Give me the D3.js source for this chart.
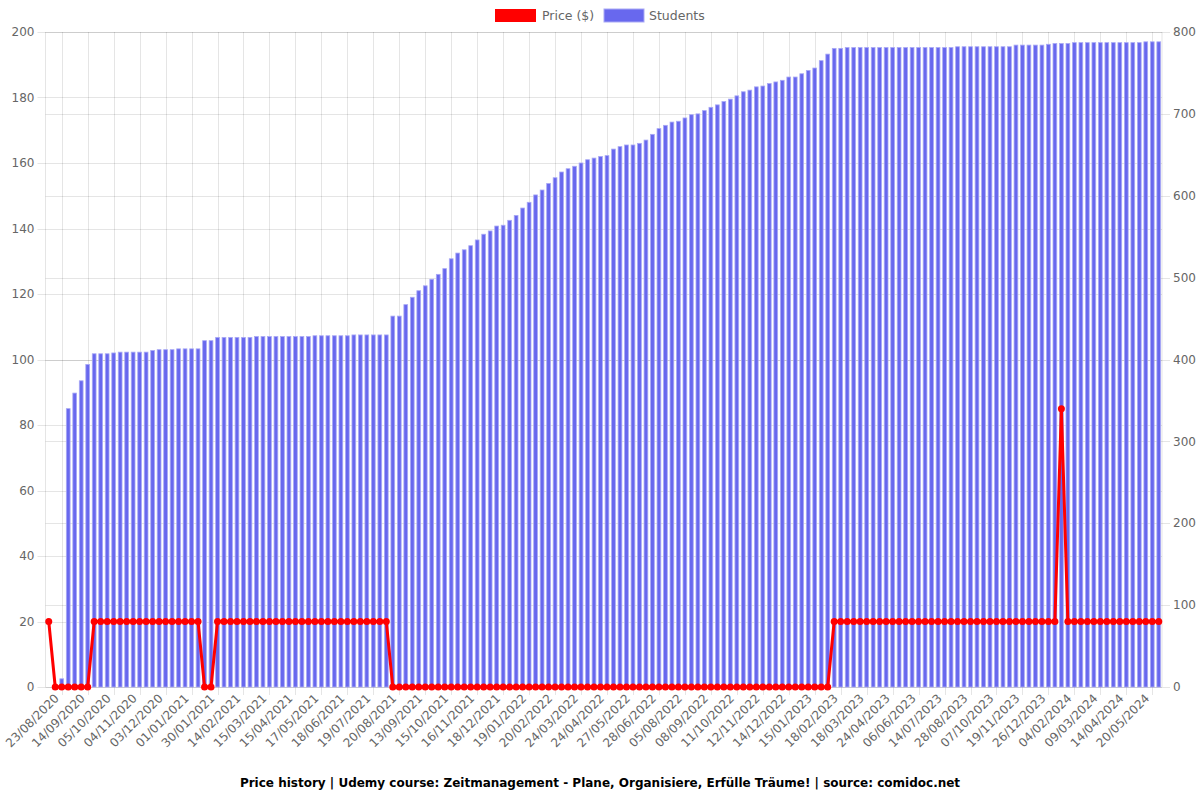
<!DOCTYPE html>
<html><head><meta charset="utf-8">
<script src="https://cdn.jsdelivr.net/npm/d3@7"></script>
<style>body{margin:0;background:#fff;}svg{display:block;font-family:"DejaVu Sans",sans-serif;}</style>
</head><body><svg id="c" width="1200" height="800"></svg>
<script>
const dates = [
"23/08/2020","28/08/2020","02/09/2020","08/09/2020","14/09/2020","19/09/2020","24/09/2020","29/09/2020",
"05/10/2020","12/10/2020","20/10/2020","27/10/2020","04/11/2020","11/11/2020","18/11/2020","26/11/2020",
"03/12/2020","10/12/2020","17/12/2020","24/12/2020","01/01/2021","08/01/2021","15/01/2021","22/01/2021",
"30/01/2021","03/02/2021","07/02/2021","10/02/2021","14/02/2021","21/02/2021","28/02/2021","07/03/2021",
"15/03/2021","23/03/2021","31/03/2021","07/04/2021","15/04/2021","23/04/2021","01/05/2021","09/05/2021",
"17/05/2021","25/05/2021","02/06/2021","10/06/2021","18/06/2021","26/06/2021","03/07/2021","11/07/2021",
"19/07/2021","27/07/2021","04/08/2021","12/08/2021","20/08/2021","26/08/2021","01/09/2021","07/09/2021",
"13/09/2021","21/09/2021","29/09/2021","07/10/2021","15/10/2021","23/10/2021","31/10/2021","08/11/2021",
"16/11/2021","24/11/2021","02/12/2021","10/12/2021","18/12/2021","26/12/2021","03/01/2022","11/01/2022",
"19/01/2022","27/01/2022","04/02/2022","12/02/2022","20/02/2022","28/02/2022","08/03/2022","16/03/2022",
"24/03/2022","01/04/2022","09/04/2022","16/04/2022","24/04/2022","02/05/2022","10/05/2022","19/05/2022",
"27/05/2022","04/06/2022","12/06/2022","20/06/2022","28/06/2022","08/07/2022","17/07/2022","27/07/2022",
"05/08/2022","14/08/2022","22/08/2022","31/08/2022","08/09/2022","16/09/2022","24/09/2022","03/10/2022",
"11/10/2022","19/10/2022","27/10/2022","04/11/2022","12/11/2022","20/11/2022","28/11/2022","06/12/2022",
"14/12/2022","22/12/2022","30/12/2022","07/01/2023","15/01/2023","23/01/2023","01/02/2023","10/02/2023",
"18/02/2023","25/02/2023","04/03/2023","11/03/2023","18/03/2023","27/03/2023","06/04/2023","15/04/2023",
"24/04/2023","05/05/2023","16/05/2023","26/05/2023","06/06/2023","15/06/2023","25/06/2023","04/07/2023",
"14/07/2023","25/07/2023","05/08/2023","17/08/2023","28/08/2023","07/09/2023","17/09/2023","27/09/2023",
"07/10/2023","18/10/2023","29/10/2023","08/11/2023","19/11/2023","28/11/2023","07/12/2023","17/12/2023",
"26/12/2023","05/01/2024","15/01/2024","25/01/2024","04/02/2024","13/02/2024","21/02/2024","29/02/2024",
"09/03/2024","18/03/2024","27/03/2024","05/04/2024","14/04/2024","23/04/2024","02/05/2024","11/05/2024",
"20/05/2024","29/05/2024","07/06/2024","16/06/2024"];

const price = [
20,0,0,0,0,0,0,20,20,20,20,20,20,20,20,20,
20,20,20,20,20,20,20,20,0,0,20,20,20,20,20,20,
20,20,20,20,20,20,20,20,20,20,20,20,20,20,20,20,
20,20,20,20,20,0,0,0,0,0,0,0,0,0,0,0,
0,0,0,0,0,0,0,0,0,0,0,0,0,0,0,0,
0,0,0,0,0,0,0,0,0,0,0,0,0,0,0,0,
0,0,0,0,0,0,0,0,0,0,0,0,0,0,0,0,
0,0,0,0,0,0,0,0,0,20,20,20,20,20,20,20,
20,20,20,20,20,20,20,20,20,20,20,20,20,20,20,20,
20,20,20,20,20,20,20,20,20,20,20,20,85,20,20,20,
20,20,20,20,20,20,20,20,20,20,20,20];

const students = [
0,1,10,340,359,374,394,407,407,407,408,409,409,409,409,409,
411,412,412,412,413,413,413,413,423,423,427,427,427,427,427,427,
428,428,428,428,428,428,428,428,428,429,429,429,429,429,429,430,
430,430,430,430,430,453,453,467,476,484,490,498,504,511,523,530,
534,539,546,553,557,563,564,570,576,585,592,601,607,615,622,629,
633,636,640,644,646,648,649,657,660,662,662,664,668,675,682,686,
690,691,695,699,700,704,708,711,715,718,722,727,729,733,734,737,
739,741,745,745,749,753,756,765,773,780,780,781,781,781,781,781,
781,781,781,781,781,781,781,781,781,781,781,781,782,782,782,782,
782,782,782,782,782,784,784,784,784,784,785,786,786,786,787,787,
787,787,787,787,787,787,787,787,787,788,788,788];

const priceTicks = [0,20,40,60,80,100,120,140,160,180,200];
const studentTicks = [0,100,200,300,400,500,600,700,800];
const titleText = "Price history | Udemy course: Zeitmanagement - Plane, Organisiere, Erfülle Träume! | source: comidoc.net";

const L = 45.5, R = 1162, T = 32, B = 687;
const svg = d3.select("#c");
const x = d3.scaleBand().domain(dates).range([L, R]).padding(0);
const bw = x.bandwidth();
const cx = d => x(d) + bw / 2;
const yL = d3.scaleLinear().domain([0, 200]).range([B, T]);
const yR = d3.scaleLinear().domain([0, 800]).range([B, T]);
const grid = "rgba(0,0,0,0.1)";
const txt = "#666";

// horizontal grids
const g = svg.append("g");
g.selectAll(".hl").data(priceTicks).join("line")
  .attr("x1", L - 8).attr("x2", R).attr("y1", d => Math.round(yL(d)) + 0.5).attr("y2", d => Math.round(yL(d)) + 0.5)
  .attr("stroke", grid);
g.selectAll(".hr").data(studentTicks).join("line")
  .attr("x1", L).attr("x2", R + 8).attr("y1", d => Math.round(yR(d)) + 0.5).attr("y2", d => Math.round(yR(d)) + 0.5)
  .attr("stroke", grid);
// vertical grids (between shown ticks)
const gridCats = dates.filter((d, i) => i % 4 === 2);
g.selectAll(".v").data(gridCats).join("line")
  .attr("x1", d => Math.round(cx(d)) + 0.5).attr("x2", d => Math.round(cx(d)) + 0.5)
  .attr("y1", T).attr("y2", B + 8).attr("stroke", grid);
g.append("line").attr("x1", L).attr("x2", L).attr("y1", T).attr("y2", B).attr("stroke", grid);
g.append("line").attr("x1", R).attr("x2", R).attr("y1", T).attr("y2", B).attr("stroke", grid);

// bars
svg.append("g").selectAll("rect").data(dates).join("rect")
  .attr("x", d => cx(d) - bw * 0.29)
  .attr("width", bw * 0.58)
  .attr("y", (d, i) => yR(students[i]))
  .attr("height", (d, i) => B - yR(students[i]))
  .attr("fill", "#6868ee")
  .attr("stroke", "#a9a9f5").attr("stroke-width", 0.8);

// price line
const line = d3.line().x((d, i) => cx(dates[i])).y(d => yL(d));
svg.append("path").datum(price).attr("d", line)
  .attr("fill", "none").attr("stroke", "#ff0000").attr("stroke-width", 3).attr("stroke-linejoin", "round");
svg.append("g").selectAll("circle").data(price).join("circle")
  .attr("cx", (d, i) => cx(dates[i])).attr("cy", d => yL(d)).attr("r", 3.5).attr("fill", "#ff0000");

// left axis labels
svg.append("g").selectAll("text").data(priceTicks).join("text")
  .attr("x", L - 11).attr("y", d => yL(d)).attr("dy", "0.35em").attr("text-anchor", "end")
  .attr("font-size", 12).attr("fill", txt).text(d => d);
// right axis labels
svg.append("g").selectAll("text").data(studentTicks).join("text")
  .attr("x", R + 11).attr("y", d => yR(d)).attr("dy", "0.35em").attr("text-anchor", "start")
  .attr("font-size", 12).attr("fill", txt).text(d => d);

// x labels
const shown = dates.filter((d, i) => i % 4 === 0);
svg.append("g").selectAll("text").data(shown).join("text")
  .attr("transform", d => `translate(${cx(d) + 8},${B + 9}) rotate(-45)`)
  .attr("text-anchor", "end").attr("dy", "0.35em")
  .attr("font-size", 12).attr("fill", txt).text(d => d);

// legend
const leg = svg.append("g");
leg.append("rect").attr("x", 495).attr("y", 9).attr("width", 41).attr("height", 13).attr("fill", "#ff0000");
leg.append("text").attr("x", 542).attr("y", 16).attr("dy", "0.35em").attr("font-size", 12.5).attr("fill", txt).text("Price ($)");
leg.append("rect").attr("x", 604).attr("y", 9).attr("width", 40).attr("height", 13).attr("fill", "#6868ee").attr("stroke", "#a9a9f5");
leg.append("text").attr("x", 649).attr("y", 16).attr("dy", "0.35em").attr("font-size", 12.5).attr("fill", txt).text("Students");

// title
svg.append("text").attr("x", 600).attr("y", 783).attr("dy", "0.35em").attr("text-anchor", "middle")
  .attr("font-size", 12).attr("font-weight", "bold").attr("fill", "#000").text(titleText);
</script></body></html>
